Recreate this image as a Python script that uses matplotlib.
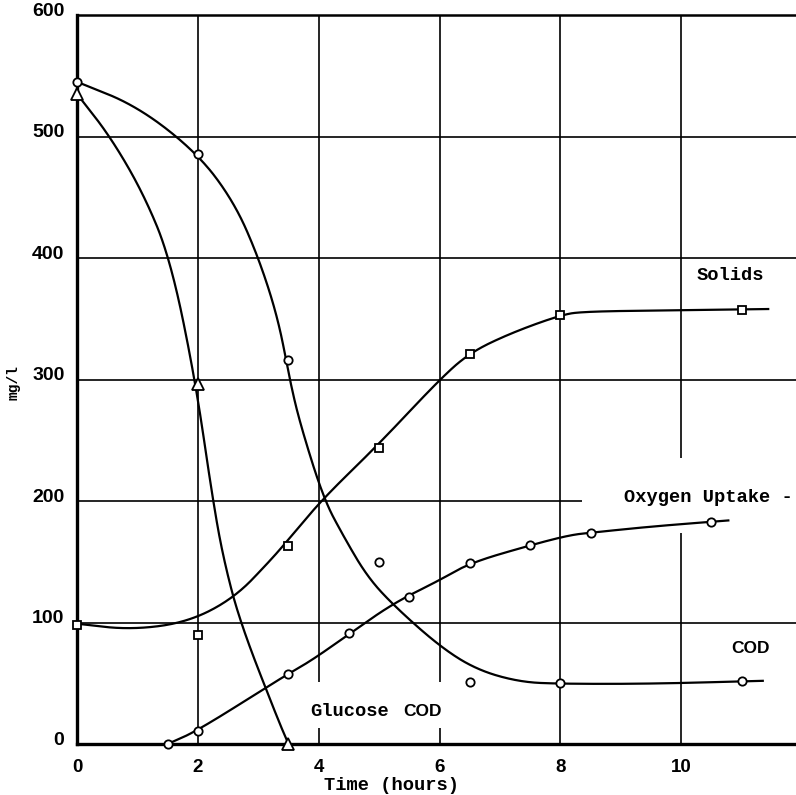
import numpy as np
import matplotlib.pyplot as plt
from matplotlib.transforms import ScaledTranslation

# measured points (time in hours, mg/l)
glucose_t = [0, 2, 3.5]
glucose_v = [535, 296, 0]

cod_t = [0, 2, 3.5, 5, 6.5, 8, 11]
cod_v = [545, 486, 316, 150, 51, 50, 52]

solids_t = [0, 2, 3.5, 5, 6.5, 8, 11]
solids_v = [98, 90, 163, 244, 321, 353, 357]

oxygen_t = [1.5, 2, 3.5, 4.5, 5.5, 6.5, 7.5, 8.5, 10.5]
oxygen_v = [0, 11, 58, 91, 121, 149, 164, 174, 183]

# hand-drawn fitted curves, traced as knots
glucose_fit_t = [0, 0.55, 1.1, 1.54, 1.95, 2.25, 2.43, 2.7, 3.31, 3.5]
glucose_fit_v = [535, 500, 453, 400, 302, 200, 151, 100, 22, 0]

cod_fit_t = [0, 1.0, 2.0, 2.6, 3.0, 3.33, 3.52, 3.69, 4.08, 4.41, 4.8,
             5.24, 6.01, 6.62, 7.33, 8.0, 9.5, 11.35]
cod_fit_v = [545, 525, 486, 446, 401, 350, 300, 264, 202, 171, 138,
             114, 80, 61, 51, 49.5, 49.5, 52]

solids_fit_t = [0, 0.88, 1.82, 2.6, 3.2, 3.53, 4.07, 4.98, 6.0, 6.5, 7.17, 8.0,
                8.38, 10.0, 11.44]
solids_fit_v = [99, 94, 100, 120, 151, 170, 202, 246, 300, 322, 338, 353,
                356, 357, 358]

oxygen_fit_t = [1.5, 2.0, 3.4, 3.86, 4.52, 5.24, 6.01, 6.5, 7.53, 8.16, 8.52,
                9.5, 10.78]
oxygen_fit_v = [0, 11, 55, 68, 91, 116, 135, 149, 164, 172, 174, 179, 184]

x_ticks = [0, 2, 4, 6, 8, 10]
y_ticks = [0, 100, 200, 300, 400, 500, 600]


def chaikin(xs, ys, rounds=5):
    # corner cutting to round off the traced polyline, end points kept
    P = np.column_stack([xs, ys]).astype(float)
    for _ in range(rounds):
        Q = 0.75 * P[:-1] + 0.25 * P[1:]
        R = 0.25 * P[:-1] + 0.75 * P[1:]
        mid = np.empty((2 * len(Q), 2))
        mid[0::2] = Q
        mid[1::2] = R
        P = np.vstack([P[0], mid, P[-1]])
    return P[:, 0], P[:, 1]


fig = plt.figure(figsize=(7.96, 7.95), dpi=100)
ax = fig.add_axes([77 / 796, 51 / 795, 1 - 77 / 796, (744 - 15) / 795])
ax.set_xlim(0, 11.9)
ax.set_ylim(0, 600)

# grid drawn by hand so some lines can stop short of the labels
grid_kw = dict(color='black', lw=1.2, zorder=1)
ax.vlines([2, 8], 0, 600, **grid_kw)
ax.vlines([4, 6], 0, 13, **grid_kw)
ax.vlines([4, 6], 51, 600, **grid_kw)
ax.vlines(10, 0, 174, **grid_kw)
ax.vlines(10, 235, 600, **grid_kw)
ax.hlines([100, 300, 400, 500], 0, 11.9, **grid_kw)
ax.hlines(200, 0, 8.36, **grid_kw)

line_kw = dict(color='black', lw=1.6, zorder=3)
for tx, vy in [(glucose_fit_t, glucose_fit_v), (cod_fit_t, cod_fit_v),
               (solids_fit_t, solids_fit_v), (oxygen_fit_t, oxygen_fit_v)]:
    sx, sy = chaikin(tx, vy)
    ax.plot(sx, sy, **line_kw)

mk = dict(ls='none', mfc='white', mec='black', mew=1.3, zorder=4, clip_on=False)
ax.plot(glucose_t, glucose_v, marker='^', ms=8, **mk)
ax.plot(cod_t, cod_v, marker='o', ms=6, **mk)
ax.plot(solids_t, solids_v, marker='s', ms=5.5, **mk)
ax.plot(oxygen_t, oxygen_v, marker='o', ms=6, **mk)

ax.spines['right'].set_visible(False)
ax.spines['left'].set_linewidth(2.4)
ax.spines['bottom'].set_linewidth(2.4)
ax.spines['top'].set_linewidth(1.8)

ax.set_xticks(x_ticks)
ax.set_yticks(y_ticks)
ax.tick_params(length=0)
ax.tick_params(axis='y', pad=9, labelsize=14)
ax.tick_params(axis='x', pad=11, labelsize=13.5)
for lab in ax.get_xticklabels() + ax.get_yticklabels():
    lab.set_fontfamily('Liberation Sans')
    lab.set_fontweight('bold')
for lab in ax.get_yticklabels():
    lab.set_transform(lab.get_transform() + ScaledTranslation(0, 4 / 72, fig.dpi_scale_trans))

mono = dict(family='Liberation Mono', weight='bold', fontsize=13.5, zorder=5)
ax.text(10.26, 386, 'Solids', va='center', ha='left', **mono)
ax.text(9.06, 203, 'Oxygen Uptake -', va='center', ha='left', **mono)
ax.text(3.86, 27, 'Glucose', va='center', ha='left', **mono)
sans = dict(family='Liberation Sans', weight='bold', fontsize=12.5, zorder=5)
ax.text(5.4, 27, 'COD', va='center', ha='left', **sans)
ax.text(10.83, 79, 'COD', va='center', ha='left', **sans)

fig.text(392 / 796, 1 - 785 / 795, 'Time (hours)', ha='center', va='center',
         family='Liberation Mono', weight='bold', fontsize=13.5)
fig.text(14 / 796, 1 - 383 / 795, 'mg/l', ha='center', va='center', rotation=90,
         family='Liberation Mono', weight='bold', fontsize=10.5)

fig.savefig('out.png', dpi=100)
